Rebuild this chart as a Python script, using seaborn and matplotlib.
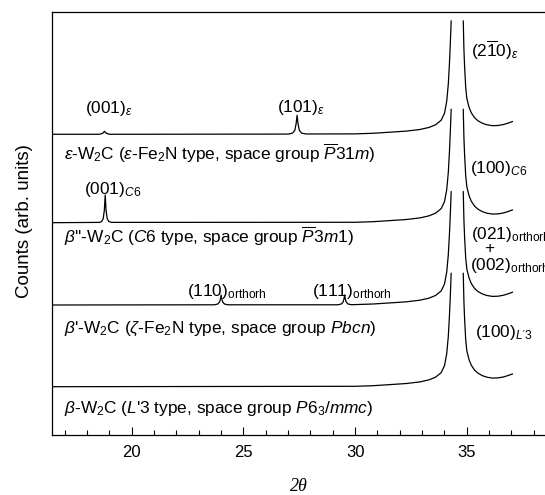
import matplotlib
matplotlib.use("Agg")
import matplotlib.pyplot as plt
import numpy as np
import pandas as pd
import seaborn as sns
from matplotlib.ticker import MultipleLocator

# ---------------- data ----------------
x_start = 16.45
x_limits = (16.45, 38.5)

# shared shape of the strong reflection near 2theta = 34.6 (clipped at the top)
main_left_x = [30.0, 30.8, 31.5, 32.3, 32.9, 33.3, 33.6, 33.85, 34.0, 34.1, 34.17, 34.22, 34.26, 34.30]
main_left_h = [0.4, 1.0, 2.0, 3.2, 4.8, 6.8, 9.5, 14, 21, 33, 50, 70, 90, 113.5]
main_right_x = [34.84, 34.87, 34.9, 34.95, 35.0, 35.1, 35.2, 35.35, 35.5, 35.7, 35.9, 36.15, 36.4, 36.65, 36.85, 37.05]
main_right_h = [113.5, 85, 68, 47, 36, 27, 21.5, 16.5, 13.5, 11, 9.5, 8.6, 8.8, 9.8, 11.2, 12.8]

# weak reflections of each phase
eps_minor_x = [18.55, 18.7, 18.78, 18.86, 19.0, 27.0, 27.2, 27.3, 27.36, 27.40, 27.44, 27.5, 27.6, 27.8]
eps_minor_h = [0, 1, 3, 1, 0, 0.2, 1.2, 4, 11, 19, 11, 4, 1.2, 0.3]
c6_minor_x = [18.55, 18.65, 18.72, 18.77, 18.81, 18.85, 18.9, 18.97, 19.1]
c6_minor_h = [0.3, 1.2, 4, 12, 27.7, 12, 4, 1.2, 0.3]
orth_minor_x = [23.7, 23.85, 23.93, 23.97, 24.0, 24.03, 24.07, 24.15, 24.3,
                29.23, 29.38, 29.46, 29.5, 29.53, 29.56, 29.6, 29.68, 29.83]
orth_minor_h = [0.2, 1, 3, 6, 10, 6, 3, 1, 0.2,
                0.2, 1, 3, 6, 10, 6, 3, 1, 0.3]
l3_minor_x = []
l3_minor_h = []

phases = ["epsilon", "C6", "orthorhombic", "L'3"]
offsets = [300.7, 212.3, 130.0, 48.3]
minor_x = [eps_minor_x, c6_minor_x, orth_minor_x, l3_minor_x]
minor_h = [eps_minor_h, c6_minor_h, orth_minor_h, l3_minor_h]

# ---------------- build table ----------------
rows = []
for i, (ph, off, mx, mh) in enumerate(zip(phases, offsets, minor_x, minor_h)):
    left_x = [x_start] + mx + main_left_x
    left_h = [0.0] + mh + main_left_h
    for x, h in zip(left_x, left_h):
        rows.append({"phase": ph, "seg": f"{ph}-L", "two_theta": x, "counts": off + h})
    for x, h in zip(main_right_x, main_right_h):
        rows.append({"phase": ph, "seg": f"{ph}-R", "two_theta": x, "counts": off + h})
df = pd.DataFrame(rows)

# ---------------- style ----------------
sns.set_theme(style="ticks")
plt.rcParams.update({
    "font.family": ["Liberation Sans", "DejaVu Sans"],
    "mathtext.fontset": "custom",
    "mathtext.rm": "Liberation Sans",
    "mathtext.it": "Liberation Sans:italic",
    "mathtext.bf": "Liberation Sans:bold",
    "mathtext.sf": "Liberation Sans",
    "text.color": "black",
    "axes.labelcolor": "black",
    "xtick.color": "black",
    "ytick.color": "black",
    "axes.edgecolor": "black",
})

fig = plt.figure(figsize=(5.45, 4.95), dpi=100)
ax = fig.add_axes([0.0963, 0.1212, 0.9037, 0.854])

sns.lineplot(data=df, x="two_theta", y="counts", units="seg", estimator=None,
             sort=False, color="black", lw=0.9, legend=False, ax=ax)

ax.set_xlim(*x_limits)
ax.set_ylim(0, 422.7)
ax.xaxis.set_major_locator(MultipleLocator(5))
ax.xaxis.set_minor_locator(MultipleLocator(1))
ax.tick_params(axis="x", which="both", direction="in", top=False, bottom=True,
               labelsize=12, pad=7, width=0.8, color="black", labelcolor="black")
ax.tick_params(axis="x", which="major", length=5.5)
ax.tick_params(axis="x", which="minor", length=3.5)
ax.set_yticks([])
for s in ["left", "top", "bottom"]:
    ax.spines[s].set_linewidth(0.9)
    ax.spines[s].set_color("black")
ax.spines["right"].set_visible(False)

ax.set_xlabel("2θ", family="Liberation Serif", style="italic", fontsize=13,
              labelpad=13, color="black")
ax.set_ylabel("Counts (arb. units)", fontsize=13.5, color="black")
ax.yaxis.set_label_coords(-0.039, 0.505)

fs = 12.4
def lab(x, y, s, **kw):
    ax.text(x, y, s, fontsize=fs, va="baseline", ha="left", color="black", **kw)

lab(17.92, 322, r"(001)$_{\varepsilon}$")
lab(26.50, 322.5, r"(101)$_{\varepsilon}$")
lab(16.97, 275, r"$\varepsilon$-W$_2$C ($\varepsilon$-Fe$_2$N type, space group $\overline{P}$31$m$)")
lab(17.84, 240.7, r"(001)$_{C6}$")
lab(16.97, 191.7, r"$\beta$''-W$_2$C ($C$6 type, space group $\overline{P}$3$m$1)")
lab(22.47, 139, r"(110)$_{\mathrm{orthorh}}$")
lab(28.06, 139, r"(111)$_{\mathrm{orthorh}}$")
lab(16.97, 101.7, r"$\beta$'-W$_2$C ($\zeta$-Fe$_2$N type, space group $Pbcn$)")
lab(16.97, 22.3, r"$\beta$-W$_2$C ($L$'3 type, space group $P6_3/mmc$)")
lab(35.18, 378, r"(2$\overline{1}$0)$_{\varepsilon}$")
lab(35.15, 261.7, r"(100)$_{C6}$")
lab(35.18, 195.5, r"(021)$_{\mathrm{orthorh}}$")
ax.text(36.02, 186.0, "+", fontsize=fs, ha="center", va="center", color="black")
lab(35.12, 165, r"(002)$_{\mathrm{orthorh}}$")
lab(35.35, 98.3, r"(100)$_{L'3}$")

fig.savefig("out.png", dpi=100)
